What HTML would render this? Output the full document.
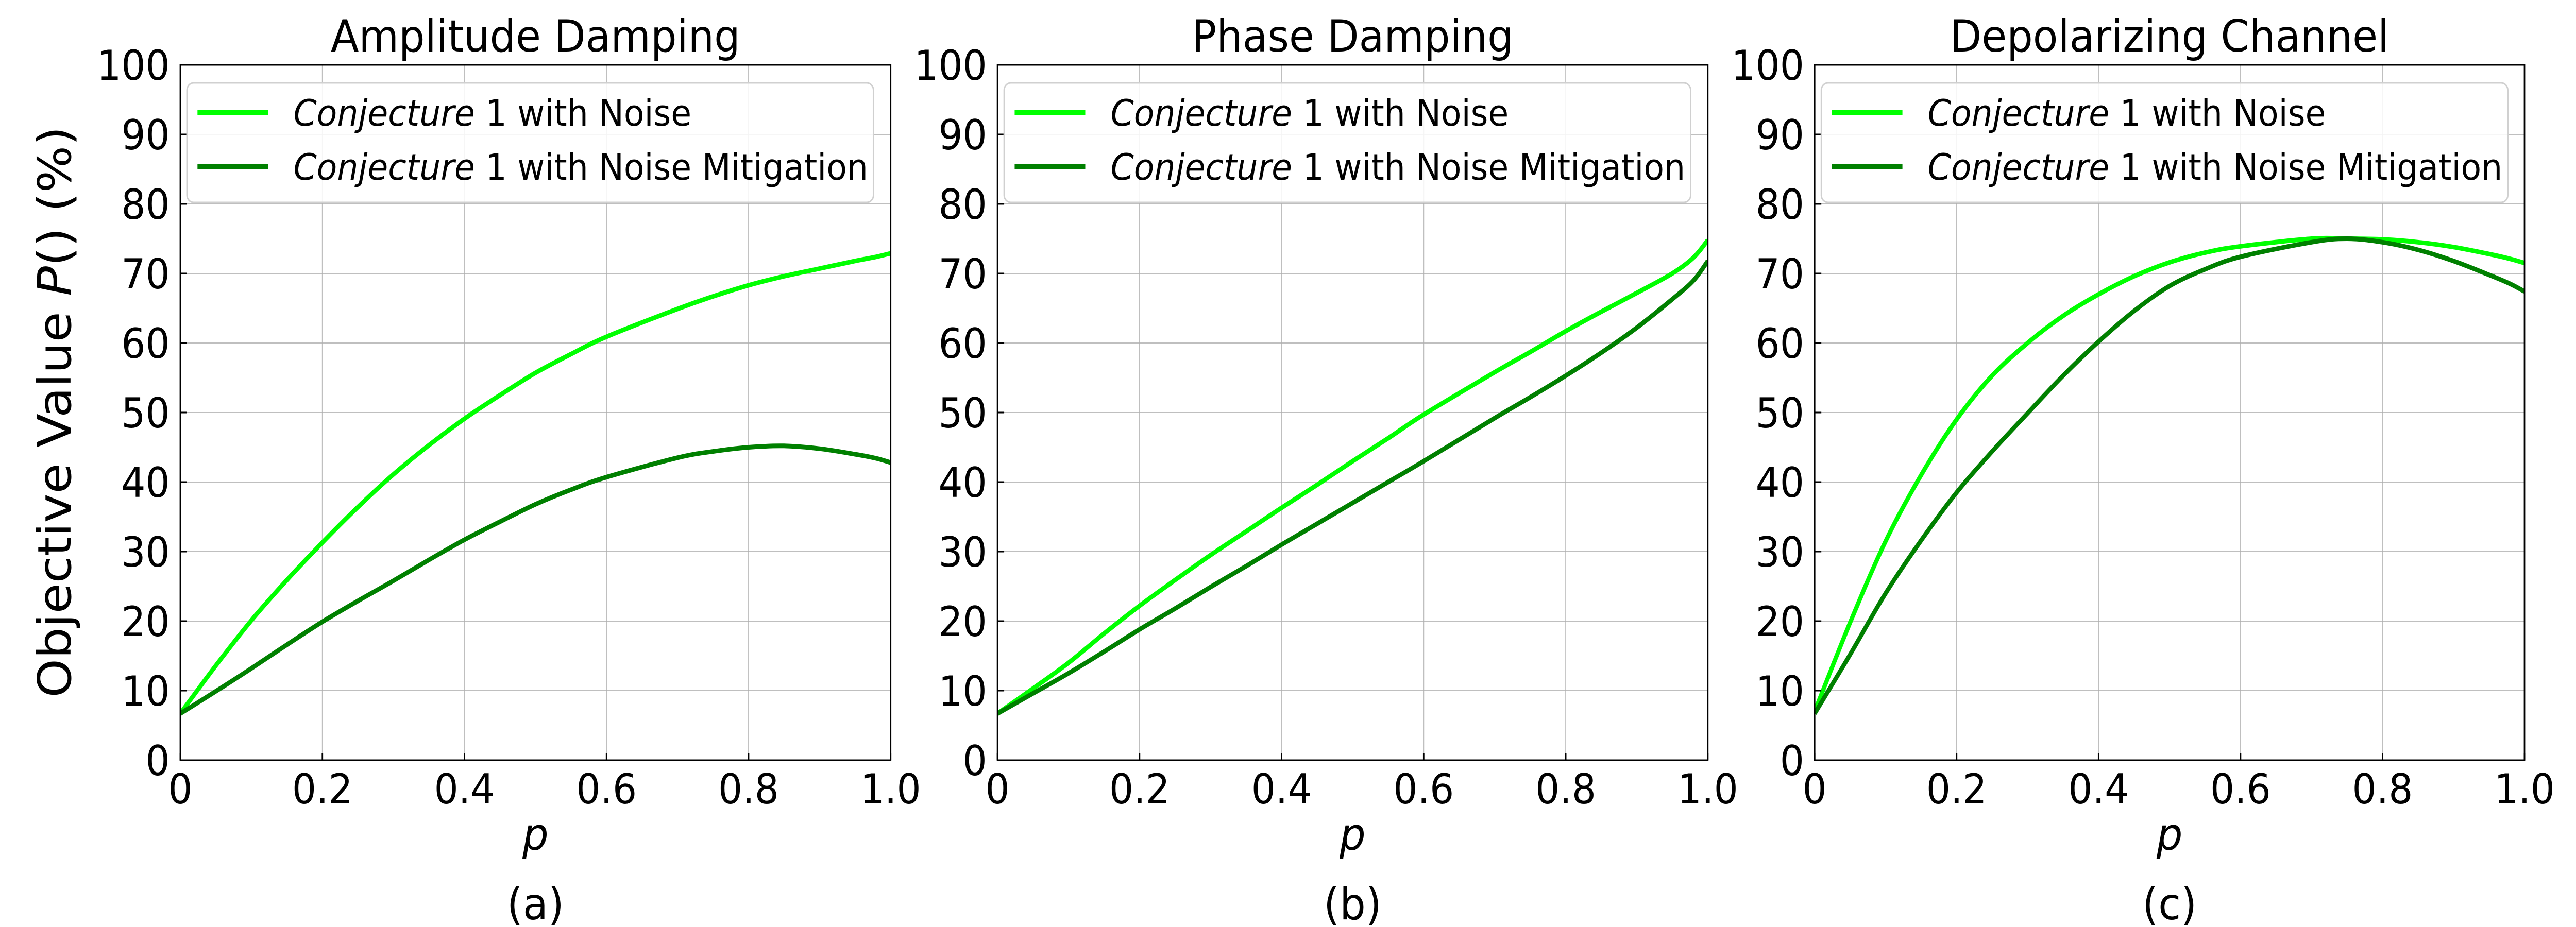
<!DOCTYPE html>
<html><head><meta charset="utf-8">
<style>
html,body{margin:0;padding:0;background:#fff;overflow:hidden;width:100%;height:100%;}
svg{display:block;width:100vw;height:100vh;font-family:"DejaVu Sans","Liberation Sans",sans-serif;}
</style></head>
<body>
<svg id="fig" viewBox="0 0 5400 1800" preserveAspectRatio="none" xmlns="http://www.w3.org/2000/svg">
<rect width="5400" height="1800" fill="#fff"/>
<text transform="translate(148,800) rotate(-90)" text-anchor="middle" font-size="96">Objective Value <tspan font-style="italic">P</tspan>() (%)</text>
</svg>
<script>
const xValues = [0,0.05,0.1,0.15,0.2,0.25,0.3,0.35,0.4,0.45,0.5,0.55,0.6,0.7,0.75,0.8,0.85,0.9,0.95,0.98,1.0];
const ampNoise = [6.7,13.6,20.1,25.9,31.3,36.4,41.1,45.3,49.1,52.5,55.7,58.4,60.9,64.9,66.7,68.3,69.6,70.7,71.8,72.4,72.9];
const ampMitig = [6.7,9.9,13.2,16.6,19.9,22.9,25.8,28.8,31.7,34.3,36.8,38.9,40.7,43.5,44.4,45.0,45.2,44.8,44.0,43.4,42.8];
const phaseNoise = [6.7,10.3,14.0,18.2,22.2,25.9,29.5,32.9,36.3,39.6,43.0,46.3,49.7,55.8,58.7,61.7,64.5,67.2,70.0,72.3,74.8];
const phaseMitig = [6.7,9.6,12.5,15.6,18.8,21.8,24.9,27.9,31.0,34.0,37.0,40.0,43.0,49.2,52.2,55.3,58.6,62.2,66.3,69.0,71.8];
const depolNoise = [7.0,19.8,31.5,41.0,49.0,55.3,60.0,63.9,67.0,69.6,71.6,73.0,73.9,75.0,75.0,74.9,74.5,73.8,72.8,72.1,71.5];
const depolMitig = [6.7,15.2,24.0,31.6,38.5,44.4,49.9,55.3,60.2,64.6,68.2,70.6,72.4,74.5,75.0,74.5,73.4,71.8,69.8,68.5,67.4];
const yTicks = [0,10,20,30,40,50,60,70,80,90,100];
const xTicks = [0,0.2,0.4,0.6,0.8,1.0];
const xTickLabels = ["0","0.2","0.4","0.6","0.8","1.0"];
const titles = ["Amplitude Damping","Phase Damping","Depolarizing Channel"];
const captions = ["(a)","(b)","(c)"];
const legendLabels = ["1 with Noise","1 with Noise Mitigation"];

const NS = "http://www.w3.org/2000/svg";
const svg = document.getElementById('fig');
const panels = [
  {left:378, right:1867, n:ampNoise, m:ampMitig, key:'amplitude'},
  {left:2091, right:3580, n:phaseNoise, m:phaseMitig, key:'phase'},
  {left:3804, right:5292, n:depolNoise, m:depolMitig, key:'depolarizing'}
];
const TOP=126, BOT=1476;
const LIGHT="#00ff00", DARK="#008000";
function mk(tag, attrs, parent){const e=document.createElementNS(NS,tag);for(const k in attrs)e.setAttribute(k,attrs[k]);(parent||svg).appendChild(e);return e;}
function smoothPath(pts){
  let d='M'+pts[0][0].toFixed(1)+','+pts[0][1].toFixed(1);
  for(let i=0;i<pts.length-1;i++){
    const p0=pts[Math.max(i-1,0)],p1=pts[i],p2=pts[i+1],p3=pts[Math.min(i+2,pts.length-1)];
    const c1x=p1[0]+(p2[0]-p0[0])/6, c1y=p1[1]+(p2[1]-p0[1])/6;
    const c2x=p2[0]-(p3[0]-p1[0])/6, c2y=p2[1]-(p3[1]-p1[1])/6;
    d+=' C'+c1x.toFixed(1)+','+c1y.toFixed(1)+' '+c2x.toFixed(1)+','+c2y.toFixed(1)+' '+p2[0].toFixed(1)+','+p2[1].toFixed(1);
  }
  return d;
}

panels.forEach((p,i)=>{
  const sx = v => p.left + v*(p.right-p.left);
  const sy = v => BOT - v/100*(BOT-TOP);
  const g = mk('g',{});
  
  
  yTicks.forEach(t=>{ const l=mk('line',{x1:p.left,x2:p.right,y1:sy(t),y2:sy(t),stroke:'#b0b0b0','stroke-width':2,opacity:0.8},g);
    
    });
  xTicks.forEach(t=>{ const l=mk('line',{x1:sx(t),x2:sx(t),y1:TOP,y2:BOT,stroke:'#b0b0b0','stroke-width':2,opacity:0.8},g);
    
    });
  const clipId='clip'+i;
  const cp = mk('clipPath',{id:clipId},g);
  mk('rect',{x:p.left,y:TOP,width:p.right-p.left,height:BOT-TOP},cp);
  [[p.n,LIGHT,'noise-line'],[p.m,DARK,'mitigation-line']].forEach(([arr,col,nm])=>{
    const pts = arr.map((v,j)=>[sx(xValues[j]),sy(v)]);
    const path = mk('path',{d:smoothPath(pts),fill:'none',stroke:col,'stroke-width':9,'stroke-linejoin':'round','clip-path':'url(#'+clipId+')'},g);
    
    
  });
  const fr = mk('rect',{x:p.left,y:TOP,width:p.right-p.left,height:BOT-TOP,fill:'none',stroke:'#000','stroke-width':3},g);
  
  
  yTicks.forEach(t=>{
    mk('line',{x1:p.left,x2:p.left+14,y1:sy(t),y2:sy(t),stroke:'#000','stroke-width':3},g);
    const tx = mk('text',{x:p.left-22,y:sy(t)+29,'text-anchor':'end','font-size':80},g);
    tx.textContent = t;
    
    
  });
  xTicks.forEach((t,j)=>{
    mk('line',{x1:sx(t),x2:sx(t),y1:BOT,y2:BOT-14,stroke:'#000','stroke-width':3},g);
    const tx = mk('text',{x:sx(t),y:1560,'text-anchor':'middle','font-size':80},g);
    tx.textContent = xTickLabels[j];
    
    
  });
  const cx = (p.left+p.right)/2;
  const tt = mk('text',{x:cx,y:100,'text-anchor':'middle','font-size':86},g);
  tt.textContent = titles[i];
  
  
  const xl = mk('text',{x:cx,y:1650,'text-anchor':'middle','font-size':86,'font-style':'italic'},g);
  xl.textContent = 'p';
  
  
  const cap = mk('text',{x:cx,y:1785,'text-anchor':'middle','font-size':86},g);
  cap.textContent = captions[i];
  
  
  const lg = mk('g',{},g);
  
  
  mk('rect',{x:p.left+14,y:161,width:1439,height:232,rx:14,fill:'#fff','fill-opacity':0.85,stroke:'#d0d0d0','stroke-width':3},lg);
  [LIGHT,DARK].forEach((col,k)=>{
    const yy = k===0?218:323;
    const ent = mk('g',{},lg);
    
    
    mk('line',{x1:p.left+36,x2:p.left+184,y1:yy,y2:yy,stroke:col,'stroke-width':10},ent);
    const t = mk('text',{x:p.left+237,y:yy+26,'font-size':70},ent);
    const it = mk('tspan',{'font-style':'italic'},t);
    it.textContent = 'Conjecture';
    const rest = mk('tspan',{},t);
    rest.textContent = ' '+legendLabels[k];
  });
});
</script>
</body></html>
